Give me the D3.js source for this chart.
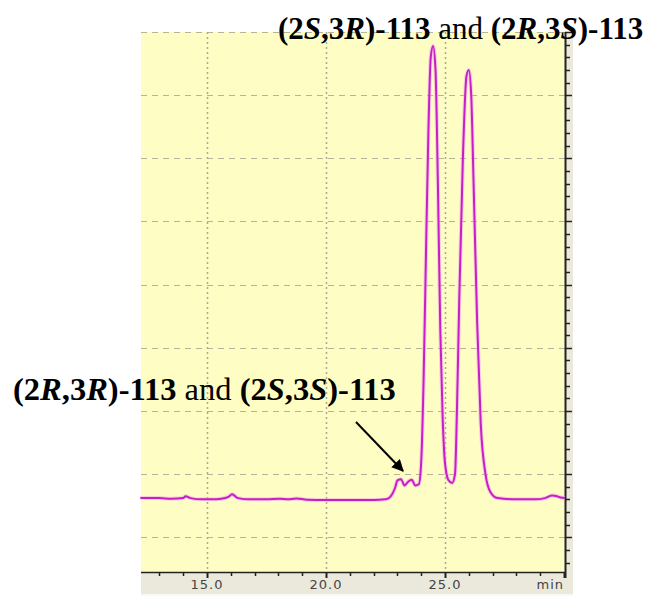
<!DOCTYPE html>
<html>
<head>
<meta charset="utf-8">
<script src="https://cdn.jsdelivr.net/npm/d3@7"></script>
<style>
  body { margin: 0; background: #fff; }
  svg { display: block; }
</style>
</head>
<body>
<div id="chart"></div>
<script>
// DATA (time in min, detector signal in arbitrary units)
const times = [12.2, 13.0, 13.5, 14.0, 14.1, 14.3, 14.8, 15.2, 15.6, 15.9, 16.05, 16.3, 16.8,
  17.5, 18.05, 18.4, 18.75, 19.2, 20.0, 21.0, 22.0, 22.5, 22.7, 22.9, 23.0, 23.15, 23.3,
  23.45, 23.6, 23.75, 23.9, 24.0, 24.1, 24.2, 24.3, 24.4, 24.5, 24.6, 24.7, 24.8, 24.9,
  25.0, 25.15, 25.3, 25.42, 25.5, 25.6, 25.75, 25.9, 26.0, 26.1, 26.2, 26.35, 26.5, 26.7,
  26.9, 27.2, 28.0, 28.8, 29.2, 29.5, 29.7, 29.85, 30.04];
const signal = [62, 62, 61, 62, 65, 62, 60, 60, 61, 64, 68, 62, 60,
  60, 61, 60, 61.5, 59.5, 59, 59, 59, 60, 64, 78, 90, 92, 82,
  88, 91, 82, 84, 120, 250, 450, 640, 760, 778, 740, 560, 330, 190,
  117, 90, 86, 100, 200, 380, 600, 730, 740, 700, 560, 340, 180, 100,
  72, 62, 60, 60, 62, 66, 65, 63, 62];

const xMajorTicks = [15, 20, 25];
const xMinorTicks = d3.range(13, 31, 1);
const xTickLabels = ["15.0", "20.0", "25.0"];
const yGrid = d3.range(0, 900, 100);
const yMinorTicks = d3.range(-40, 801, 20);

// LAYOUT
const W = 661, H = 598;
const plot = { left: 141, top: 32, right: 565, bottom: 572 };

const x = d3.scaleLinear().domain([12.227, 30.04]).range([plot.left, plot.right]);
const y = d3.scaleLinear().domain([-55, 800]).range([plot.bottom, plot.top]);

const svg = d3.select("#chart").append("svg")
  .attr("width", W).attr("height", H);

// PLOT BACKGROUND
svg.append("rect")
  .attr("x", plot.left).attr("y", plot.top)
  .attr("width", plot.right - plot.left).attr("height", plot.bottom - plot.top)
  .style("fill", "#fefdc4");

// GRAY AXIS BANDS
svg.append("rect")
  .attr("x", plot.left).attr("y", plot.bottom)
  .attr("width", plot.right - plot.left + 8).attr("height", 22)
  .style("fill", "#ebe9dc");
svg.append("rect")
  .attr("x", plot.right).attr("y", plot.top)
  .attr("width", 8).attr("height", plot.bottom - plot.top)
  .style("fill", "#ebe9dc");
svg.append("line")
  .attr("x1", plot.left).attr("x2", plot.right + 8)
  .attr("y1", plot.bottom + 23).attr("y2", plot.bottom + 23)
  .style("stroke", "#f4f3ec").style("stroke-width", 1);

// HORIZONTAL DASHED GRID
svg.append("g").selectAll("line")
  .data(yGrid)
  .join("line")
  .attr("x1", plot.left).attr("x2", plot.right)
  .attr("y1", d => Math.round(y(d)) + 0.5).attr("y2", d => Math.round(y(d)) + 0.5)
  .style("stroke", "#b5b39a").style("stroke-width", 1)
  .style("stroke-dasharray", "6,5");

// VERTICAL DOTTED GRID
svg.append("g").selectAll("line")
  .data(xMajorTicks)
  .join("line")
  .attr("x1", d => Math.round(x(d)) + 0.5).attr("x2", d => Math.round(x(d)) + 0.5)
  .attr("y1", plot.top).attr("y2", plot.bottom)
  .style("stroke", "#aaa89a").style("stroke-width", 1.5)
  .style("stroke-dasharray", "2,3");

// X AXIS (ticks point down into the gray band)
const xAxis = svg.append("g");
xAxis.append("line")
  .attr("x1", plot.left).attr("x2", plot.right)
  .attr("y1", plot.bottom + 0.5).attr("y2", plot.bottom + 0.5)
  .style("stroke", "#222").style("stroke-width", 1.5);
xAxis.selectAll(".minor")
  .data(xMinorTicks)
  .join("line")
  .attr("x1", d => Math.round(x(d)) + 0.5).attr("x2", d => Math.round(x(d)) + 0.5)
  .attr("y1", plot.bottom).attr("y2", d => plot.bottom + (d % 5 === 0 ? 6 : 4))
  .style("stroke", "#222").style("stroke-width", d => d % 5 === 0 ? 2 : 1.5);
xAxis.selectAll("text")
  .data(xMajorTicks)
  .join("text")
  .attr("x", d => x(d)).attr("y", plot.bottom + 17)
  .attr("text-anchor", "middle")
  .style("font-family", "'DejaVu Sans', Verdana, sans-serif")
  .style("font-size", "13px")
  .style("letter-spacing", "1px")
  .style("fill", "#444")
  .text((d, i) => xTickLabels[i]);
xAxis.append("text")
  .attr("x", 564).attr("y", plot.bottom + 17)
  .attr("text-anchor", "end")
  .style("font-family", "'DejaVu Sans', Verdana, sans-serif")
  .style("font-size", "13px")
  .style("letter-spacing", "1px")
  .style("fill", "#444")
  .text("min");

// RIGHT AXIS
const yAxis = svg.append("g");
yAxis.append("line")
  .attr("x1", plot.right + 0.5).attr("x2", plot.right + 0.5)
  .attr("y1", plot.top).attr("y2", plot.bottom + 6)
  .style("stroke", "#222").style("stroke-width", 2);
yAxis.selectAll("line.t")
  .data(yMinorTicks)
  .join("line")
  .attr("class", "t")
  .attr("x1", plot.right).attr("x2", d => plot.right + (d % 100 === 0 ? 7 : 5))
  .attr("y1", d => Math.round(y(d)) + 0.5).attr("y2", d => Math.round(y(d)) + 0.5)
  .style("stroke", "#222").style("stroke-width", 1.5);

// CHROMATOGRAM TRACE
const data = times.map((t, i) => ({ t: t, v: signal[i] }));
const line = d3.line()
  .x(d => x(d.t))
  .y(d => y(d.v))
  .curve(d3.curveMonotoneX);

svg.append("path")
  .datum(data)
  .attr("d", line)
  .style("fill", "none")
  .style("stroke", "#f0a0f0")
  .style("stroke-width", 4)
  .style("opacity", 0.5);
svg.append("path")
  .datum(data)
  .attr("d", line)
  .style("fill", "none")
  .style("stroke", "#c81ec8")
  .style("stroke-width", 2);

// LABELS
function label(xp, yp, size, parts) {
  const t = svg.append("text")
    .attr("x", xp).attr("y", yp)
    .style("font-family", "'Liberation Serif', 'Times New Roman', serif")
    .style("font-size", size + "px")
    .style("fill", "#000");
  parts.forEach(p => {
    t.append("tspan")
      .style("font-weight", p[1] ? "bold" : "normal")
      .style("font-style", p[2] ? "italic" : "normal")
      .text(p[0]);
  });
}
label(278, 39, 31, [["(2", 1, 0], ["S", 1, 1], [",3", 1, 0], ["R", 1, 1], [")-113", 1, 0],
  [" and ", 0, 0], ["(2", 1, 0], ["R", 1, 1], [",3", 1, 0], ["S", 1, 1], [")-113", 1, 0]]);
label(13, 400, 32.5, [["(2", 1, 0], ["R", 1, 1], [",3", 1, 0], ["R", 1, 1], [")-113", 1, 0],
  [" and ", 0, 0], ["(2", 1, 0], ["S", 1, 1], [",3", 1, 0], ["S", 1, 1], [")-113", 1, 0]]);

// ARROW
svg.append("defs").append("marker")
  .attr("id", "head")
  .attr("viewBox", "0 0 10 10")
  .attr("refX", 9).attr("refY", 5)
  .attr("markerWidth", 6).attr("markerHeight", 6)
  .attr("markerUnits", "strokeWidth")
  .attr("orient", "auto")
  .append("path")
  .attr("d", "M0,0 L10,5 L0,10 z")
  .style("fill", "#000");
svg.append("line")
  .attr("x1", 356).attr("y1", 422)
  .attr("x2", 403).attr("y2", 471)
  .style("stroke", "#000").style("stroke-width", 2)
  .attr("marker-end", "url(#head)");
</script>
</body>
</html>
